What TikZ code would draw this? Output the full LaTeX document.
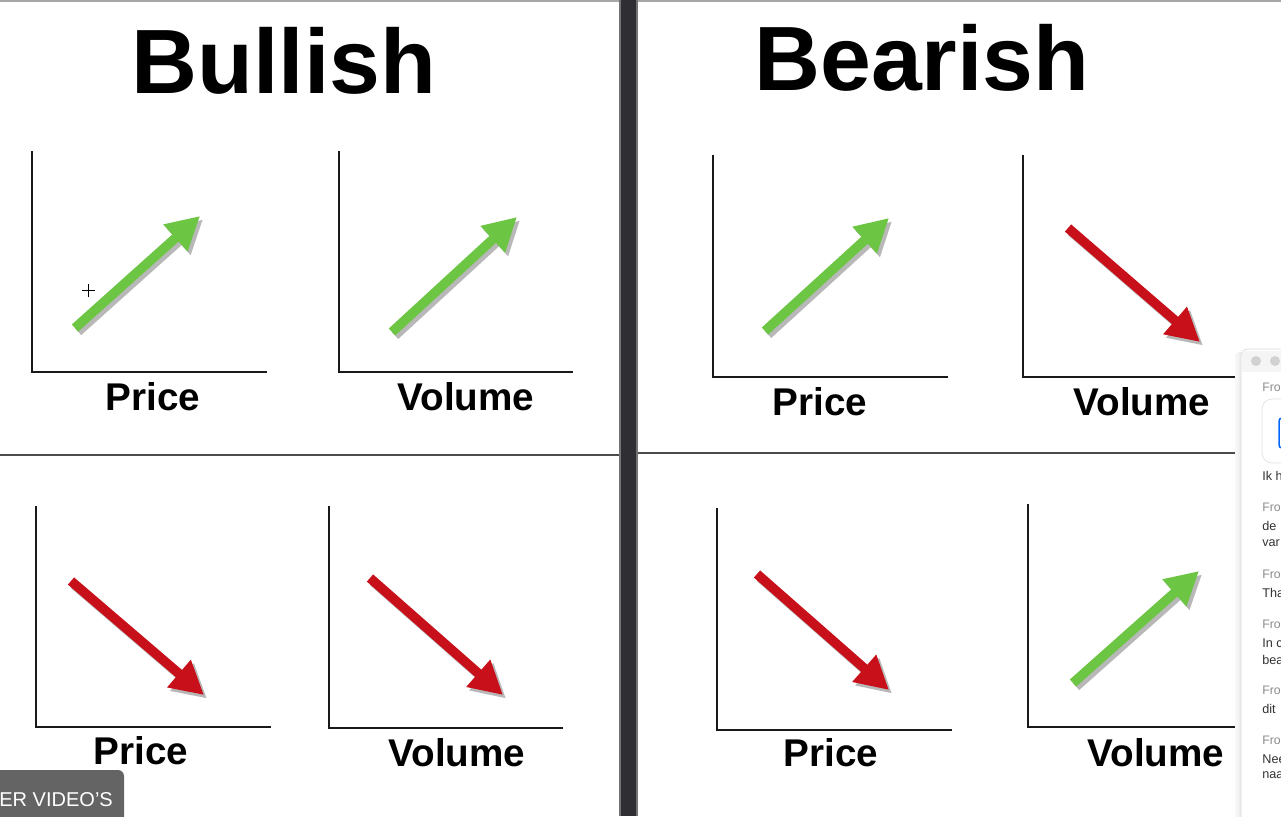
\documentclass[tikz,border=0pt]{standalone}
\usepackage{fontspec}
\setmainfont{Liberation Sans}
\usetikzlibrary{arrows.meta,positioning}

\definecolor{bullgreen}{HTML}{6CC644}
\definecolor{bearred}{HTML}{C8101A}
\definecolor{barcol}{HTML}{2E2E33}
\definecolor{btncol}{HTML}{646464}

\begin{document}
\begin{tikzpicture}[
        x=0.02cm, y=-0.02cm,
        heading/.style={font=\fontsize{52}{52}\selectfont\bfseries, anchor=base, inner sep=0},
        axislabel/.style={font=\fontsize{22}{22}\selectfont\bfseries, anchor=base, inner sep=0},
        axis/.style={draw=black!90, line width=0.05cm},
        fatarrow/.style={line width=0.19cm, -{Triangle[length=0.66cm,width=0.68cm]}},
        shade/.style={fatarrow, draw=black!28, transform canvas={shift={(0.06cm,-0.07cm)}}},
        up/.style={fatarrow, draw=bullgreen},
        down/.style={fatarrow, draw=bearred},
        chatfrom/.style={font=\fontsize{7}{7}\selectfont, anchor=west, inner sep=0, text=black!45},
        chattext/.style={font=\fontsize{7.2}{7.2}\selectfont, anchor=west, inner sep=0, text=black!80}
    ]
        \useasboundingbox (0,0) rectangle (1281,816);
        \clip (0,0) rectangle (1281,816);
        \fill[white] (0,0) rectangle (1281,816);

        % Frame
        \fill[black!35] (0,0) rectangle (1281,2);
        \draw[black!70, line width=0.05cm] (0,455) -- (621,455);
        \draw[black!70, line width=0.05cm] (636,453) -- (1241,453);
        \fill[black!55] (619,0) rectangle (638,816);
        \fill[barcol] (621,0) rectangle (636,816);

        % Headings
        \node[heading] (bull) at (284,93) {Bullish};
        \node[heading] (bear) at (922,90) {Bearish};

        % Bullish - price up
        \draw[axis] (32,151) |- (267,372);
        \coordinate (bp1) at (75,328);
        \coordinate (bp2) at (200,216);
        \draw[shade] (bp1) -- (bp2);
        \draw[up] (bp1) -- (bp2);
        \node[axislabel] (bpLbl) at (153,410) {Price};

        % Bullish - volume up
        \draw[axis] (339,151) |- (573,372);
        \coordinate (bv1) at (392,332);
        \coordinate (bv2) at (517,217);
        \draw[shade] (bv1) -- (bv2);
        \draw[up] (bv1) -- (bv2);
        \node[axislabel] (bvLbl) at (466,410) {Volume};

        % Bullish - price down
        \draw[axis] (36,506) |- (271,727);
        \coordinate (bp3) at (71,581);
        \coordinate (bp4) at (204,695);
        \draw[shade] (bp3) -- (bp4);
        \draw[down] (bp3) -- (bp4);
        \node[axislabel] (bpLblB) at (141,764) {Price};

        % Bullish - volume down
        \draw[axis] (329,506) |- (563,728);
        \coordinate (bv3) at (370,578);
        \coordinate (bv4) at (503,695);
        \draw[shade] (bv3) -- (bv4);
        \draw[down] (bv3) -- (bv4);
        \node[axislabel] (bvLblB) at (457,766) {Volume};

        % Bearish - price up
        \draw[axis] (713,155) |- (948,377);
        \coordinate (rp1) at (765,331);
        \coordinate (rp2) at (889,218);
        \draw[shade] (rp1) -- (rp2);
        \draw[up] (rp1) -- (rp2);
        \node[axislabel] (rpLbl) at (820,415) {Price};

        % Bearish - volume down
        \draw[axis] (1023,155) |- (1245,377);
        \coordinate (rv1) at (1068,228);
        \coordinate (rv2) at (1200,342);
        \draw[shade] (rv1) -- (rv2);
        \draw[down] (rv1) -- (rv2);
        \node[axislabel] (rvLbl) at (1142,415) {Volume};

        % Bearish - price down
        \draw[axis] (717,508) |- (952,730);
        \coordinate (rp3) at (757,574);
        \coordinate (rp4) at (889,690);
        \draw[shade] (rp3) -- (rp4);
        \draw[down] (rp3) -- (rp4);
        \node[axislabel] (rpLblB) at (831,766) {Price};

        % Bearish - volume up
        \draw[axis] (1028,504) |- (1245,727);
        \coordinate (rv3) at (1073,683);
        \coordinate (rv4) at (1199,571);
        \draw[shade] (rv3) -- (rv4);
        \draw[up] (rv3) -- (rv4);
        \node[axislabel] (rvLblB) at (1156,766) {Volume};

        % Cursor
        \draw[black, line width=0.02cm] (82,290) -- (95,290) (88.5,284) -- (88.5,297);

        % Chat window
        \fill[black!3] (1235,353) rectangle (1242,830);
        \fill[black!6] (1238,352) rectangle (1242,830);
        \fill[white, rounded corners=0.14cm] (1241,349) rectangle (1300,840);
        \draw[black!15, rounded corners=0.14cm] (1241,349) rectangle (1300,840);
        \fill[black!4] (1242,351) rectangle (1300,372);
        \fill[black!18] (1256,361) circle (5);
        \fill[black!18] (1275,361) circle (5);
        \node[chatfrom] (f1) at (1262,387) {Fro};
        \draw[black!12, rounded corners=0.2cm] (1262,399) rectangle (1310,463);
        \draw[blue!60!cyan, line width=0.03cm, rounded corners=0.06cm] (1279,418) rectangle (1300,448);
        \node[chattext] (m1) at (1262,476) {Ik h};
        \node[chatfrom] (f2) at (1262,507) {Fro};
        \node[chattext] (m2) at (1262,526) {de};
        \node[chattext] (m3) at (1262,543) {var};
        \node[chatfrom] (f3) at (1262,574) {Fro};
        \node[chattext] (m4) at (1262,593) {Tha};
        \node[chatfrom] (f4) at (1262,624) {Fro};
        \node[chattext] (m5) at (1262,643) {In c};
        \node[chattext] (m6) at (1262,660) {bea};
        \node[chatfrom] (f5) at (1262,690) {Fro};
        \node[chattext] (m7) at (1262,709) {dit};
        \node[chatfrom] (f6) at (1262,740) {Fro};
        \node[chattext] (m8) at (1262,759) {Nee};
        \node[chattext] (m9) at (1262,775) {naa};

        % Video button
        \fill[btncol, rounded corners=0.12cm] (-20,770) rectangle (124,830);
        \node[font=\fontsize{11.4}{11.4}\selectfont, text=white!88, anchor=base west, inner sep=0] (btn) at (-1,806) {ER VIDEO'S};
    \end{tikzpicture}
\end{document}
